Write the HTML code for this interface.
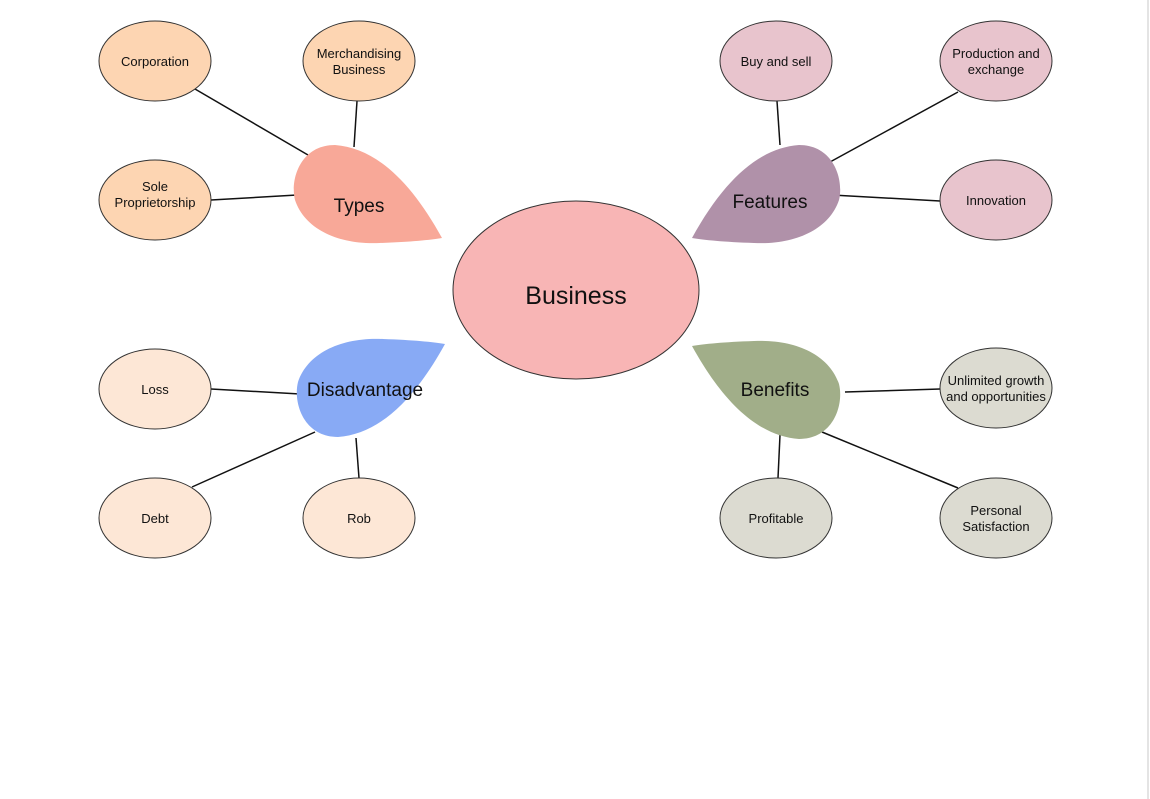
<!DOCTYPE html>
<html><head><meta charset="utf-8"><style>html,body{margin:0;padding:0;background:#fff}svg{display:block}text{font-family:"Liberation Sans",sans-serif;fill:#111;text-anchor:middle}</style></head><body>
<svg width="1150" height="799" viewBox="0 0 1150 799">
<line x1="1148" y1="0" x2="1148" y2="799" stroke="#e4e4e4" stroke-width="2"/>
<g stroke="#111" stroke-width="1.5">
<line x1="195" y1="89" x2="308" y2="155"/><line x1="357" y1="101" x2="354" y2="147"/><line x1="211" y1="200" x2="297" y2="195"/>
<line x1="777" y1="101" x2="780" y2="145"/><line x1="958" y1="92" x2="830" y2="162"/><line x1="940" y1="201" x2="832" y2="195"/>
<line x1="211" y1="389" x2="300" y2="394"/><line x1="192" y1="487" x2="315" y2="432"/><line x1="356" y1="438" x2="359" y2="478"/>
<line x1="940" y1="389" x2="845" y2="392"/><line x1="778" y1="478" x2="780" y2="435"/><line x1="958" y1="488" x2="822" y2="432"/>
</g>
<g stroke="#333" stroke-width="1">
<ellipse cx="155" cy="61" rx="56" ry="40" fill="#fdd5b2"/><ellipse cx="359" cy="61" rx="56" ry="40" fill="#fdd5b2"/><ellipse cx="155" cy="200" rx="56" ry="40" fill="#fdd5b2"/>
<ellipse cx="776" cy="61" rx="56" ry="40" fill="#e8c4cd"/><ellipse cx="996" cy="61" rx="56" ry="40" fill="#e8c4cd"/><ellipse cx="996" cy="200" rx="56" ry="40" fill="#e8c4cd"/>
<ellipse cx="155" cy="389" rx="56" ry="40" fill="#fde7d6"/><ellipse cx="155" cy="518" rx="56" ry="40" fill="#fde7d6"/><ellipse cx="359" cy="518" rx="56" ry="40" fill="#fde7d6"/>
<ellipse cx="996" cy="388" rx="56" ry="40" fill="#dcdbd1"/><ellipse cx="776" cy="518" rx="56" ry="40" fill="#dcdbd1"/><ellipse cx="996" cy="518" rx="56" ry="40" fill="#dcdbd1"/>
<ellipse cx="576" cy="290" rx="123" ry="89" fill="#f8b5b5"/>
</g>
<path id="leaf" d="M442,238 C410,180 375,148 335,145 C300,145 290,180 295,200 C305,230 340,245 380,243 C410,242 430,240 442,238 Z" fill="#f8a898"/>
<path d="M442,238 C410,180 375,148 335,145 C300,145 290,180 295,200 C305,230 340,245 380,243 C410,242 430,240 442,238 Z" fill="#b091a9" transform="translate(1134,0) scale(-1,1)"/>
<path d="M442,238 C410,180 375,148 335,145 C300,145 290,180 295,200 C305,230 340,245 380,243 C410,242 430,240 442,238 Z" fill="#88aaf5" transform="translate(3,582) scale(1,-1)"/>
<path d="M442,238 C410,180 375,148 335,145 C300,145 290,180 295,200 C305,230 340,245 380,243 C410,242 430,240 442,238 Z" fill="#a1ae89" transform="translate(1134,584) scale(-1,-1)"/>
<g font-size="13">
<text x="155" y="66">Corporation</text>
<text x="359" y="58">Merchandising</text><text x="359" y="74">Business</text>
<text x="155" y="191">Sole</text><text x="155" y="207">Proprietorship</text>
<text x="776" y="66">Buy and sell</text>
<text x="996" y="58">Production and</text><text x="996" y="74">exchange</text>
<text x="996" y="205">Innovation</text>
<text x="155" y="394">Loss</text><text x="155" y="523">Debt</text><text x="359" y="523">Rob</text>
<text x="996" y="385">Unlimited growth</text><text x="996" y="401">and opportunities</text>
<text x="776" y="523">Profitable</text>
<text x="996" y="515">Personal</text><text x="996" y="531">Satisfaction</text>
</g>
<g font-size="19">
<text x="359" y="212">Types</text><text x="770" y="208">Features</text>
<text x="365" y="396">Disadvantage</text><text x="775" y="396">Benefits</text>
</g>
<text x="576" y="304" font-size="25">Business</text>
</svg>
</body></html>
